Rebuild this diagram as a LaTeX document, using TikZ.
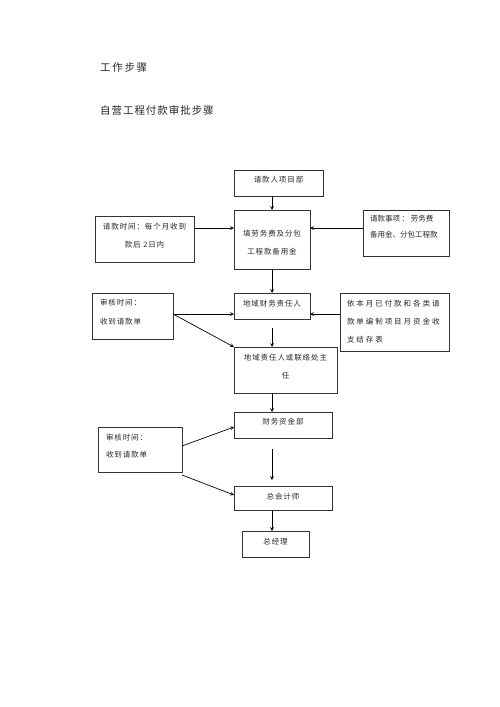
\documentclass[tikz,border=0pt]{standalone}
\usepackage{fontspec}
\usepackage{tikz}
\usetikzlibrary{arrows,calc,positioning}
\newfontfamily\cjk[LetterSpace=12]{Noto Sans CJK SC}
% box body: width, height, alignment, first baseline, text
\newcommand{\cellbody}[5]{\parbox[c][#2][t]{#1}{#3\rule{0pt}{#4}#5\par}}
\tikzstyle{element}=[
  anchor=north west,
  draw=black!80,
  font={\cjk\fontsize{7.5pt}{18pt}\selectfont},
  text=black!85,
  inner sep=0pt,
  outer sep=0pt,
  line width=.7pt,
  rectangle,
]
\tikzstyle{arrow}=[
  color=black,
  draw=black,
  line width=.7pt,
]
\tikzstyle{heading}=[
  anchor=west,
  font={\cjk\fontsize{10.5pt}{12pt}\selectfont},
  text=black!85,
  inner sep=0pt,
]
\tikzset{
  >=stealth,
}
\begin{document}
\begin{tikzpicture}[x=1pt,y=-1pt]
      \useasboundingbox (0,0) rectangle (500,707);
      \node (title) [heading] at (100,68) {\addfontfeature{LetterSpace=16}工作步骤};
      \node (subtitle) [heading] at (100,110) {\addfontfeature{LetterSpace=9}自营工程付款审批步骤};
      \node (applicant) [element] at (234,170) {\cellbody{89pt}{26pt}{\centering}{12pt}{请款人项目部}};
      \node (fillform) [element] at (234,210) {\cellbody{76pt}{59pt}{\centering}{26pt}{填劳务费及分包\\工程款备用金}};
      \node (payterm) [element] at (95,216) {\cellbody{99pt}{46pt}{\centering}{13pt}{请款时间：每个月收到\\款后 2日内}};
      \node (payitem) [element] at (363,210) {\cellbody{86pt}{46pt}{\raggedright\leftskip=7pt\addfontfeature{LetterSpace=0}\baselineskip=16pt}{11pt}{请款事项 ： 劳务费\\备用金、分包工程款}};
      \node (regfin) [element] at (234,293) {\cellbody{76pt}{26pt}{\centering}{13pt}{地域财务责任人}};
      \node (monthly) [element] at (340,293) {\cellbody{109pt}{58pt}{\raggedright\leftskip=7pt\addfontfeature{LetterSpace=26}}{13pt}{依本月已付款和各类请\\款单编制项目月资金收\\支结存表}};
      \node (audita) [element] at (92,293) {\cellbody{81pt}{46pt}{\raggedright\leftskip=8pt\baselineskip=19pt}{12pt}{审核时间：\\收到请款单}};
      \node (regchief) [element] at (234,347) {\cellbody{103pt}{46pt}{\centering}{13pt}{地域责任人或联络处主\\任}};
      \node (fundsdept) [element] at (234,412) {\cellbody{98pt}{26pt}{\centering}{12pt}{财务资金部}};
      \node (auditb) [element] at (98,427) {\cellbody{84pt}{45pt}{\raggedright\leftskip=8pt\baselineskip=17pt}{13pt}{审核时间：\\收到请款单}};
      \node (chiefacct) [element] at (234,486) {\cellbody{98pt}{24pt}{\centering}{13pt}{总会计师}};
      \node (gm) [element] at (242,531) {\cellbody{67pt}{26pt}{\centering}{13pt}{总经理}};
      \draw [->, arrow] (applicant.south -| fillform.north) -- (fillform.north);
      \draw [->, arrow] (payterm.east |- 0,228) -- (fillform.west |- 0,228);
      \draw [->, arrow] (payitem.west |- 0,228) -- (fillform.east |- 0,228);
      \draw [->, arrow] (fillform.south) -- (regfin.north);
      \draw [->, arrow] (monthly.west |- 0,314) -- (regfin.east |- 0,314);
      \draw [->, arrow] (audita.east |- 0,314) -- (regfin.west |- 0,314);
      \draw [->, arrow] (audita.east |- 0,314) -- (regchief.north west);
      \draw [->, arrow, shorten <=9pt] (regfin.south) -- (regfin.south |- regchief.north);
      \draw [->, arrow] (regfin.south |- regchief.south) -- (regfin.south |- fundsdept.north);
      \draw [->, arrow] (auditb.east |- 0,446) -- (fundsdept.west |- 0,427);
      \draw [->, arrow] (auditb.south east |- 0,475) -- (chiefacct.west |- 0,495);
      \draw [->, arrow, shorten <=11pt, shorten >=6pt] (regfin.south |- fundsdept.south) -- (regfin.south |- chiefacct.north);
      \draw [->, arrow] (regfin.south |- chiefacct.south) -- (regfin.south |- gm.north);
    \end{tikzpicture}
\end{document}
